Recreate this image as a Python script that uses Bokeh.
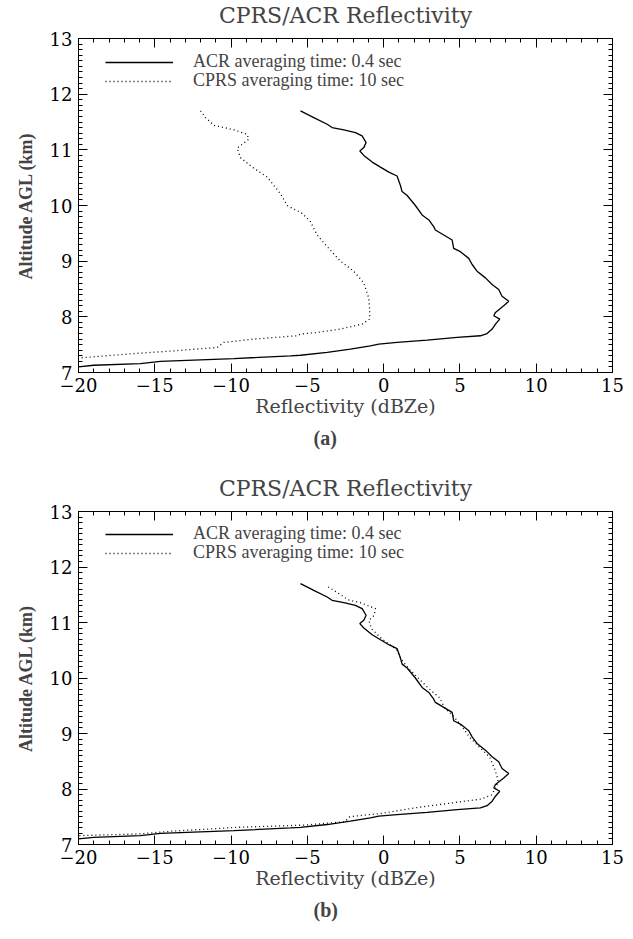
from bokeh.plotting import figure
from bokeh.models import (Range1d, LinearAxis, SingleIntervalTicker, Legend, LegendItem, Title,
                          CustomLabelingPolicy)
from bokeh.layouts import column
from bokeh.embed import file_html
from bokeh.resources import INLINE

# ---------------- data ----------------
acr_dbz = [-5.45, -4.58, -3.70, -3.38, -2.61, -1.85, -1.41, -1.15, -1.30, -1.56, -1.30, -0.75,
           -0.21, 0.34, 0.88, 1.10, 1.21, 1.54, 2.08, 2.52, 2.96, 3.28, 3.39, 3.94, 4.49, 4.59,
           5.03, 5.58, 5.80, 6.12, 6.67, 7.11, 7.54, 7.76, 8.20, 7.87, 7.33, 7.22, 7.61, 7.33,
           7.11, 6.78, 6.34, 4.82, 2.85, 0.88, -0.32, -0.87, -2.18, -3.70, -5.45, -6.10, -9.82,
           -14.63, -15.94, -19.0, -20.0]
acr_alt = [11.70, 11.58, 11.46, 11.40, 11.36, 11.31, 11.25, 11.13, 11.04, 10.98, 10.90, 10.78,
           10.69, 10.60, 10.53, 10.36, 10.25, 10.18, 10.00, 9.83, 9.74, 9.62, 9.56, 9.47, 9.38, 9.23,
           9.17, 9.05, 8.94, 8.82, 8.70, 8.58, 8.49, 8.37, 8.28, 8.20, 8.08, 8.02, 7.96, 7.87,
           7.78, 7.70, 7.66, 7.63, 7.58, 7.54, 7.51, 7.48, 7.42, 7.36, 7.31, 7.30, 7.25,
           7.20, 7.16, 7.13, 7.10]

cprs_a_dbz = [-12.0, -11.68, -11.13, -9.82, -8.95, -8.84, -9.60, -9.38, -8.62, -7.63, -6.76, -6.32,
              -5.56, -5.34, -4.80, -4.36, -3.70, -2.83, -1.96, -1.30, -0.98, -0.91, -0.91, -1.41,
              -2.83, -4.36, -5.45, -5.67, -8.51, -10.48, -10.91, -14.19, -16.38, -20.0]
cprs_a_alt = [11.70, 11.58, 11.44, 11.36, 11.28, 11.19, 11.03, 10.86, 10.69, 10.51, 10.21, 10.00,
              9.89, 9.86, 9.71, 9.47, 9.26, 9.00, 8.82, 8.61, 8.34, 8.11, 7.96, 7.87,
              7.78, 7.72, 7.69, 7.66, 7.60, 7.54, 7.45, 7.38, 7.34, 7.26]

cprs_b_dbz = [-3.64, -3.09, -2.33, -1.45, -0.91, -0.54, -0.62, -0.97, -0.80, -0.14, 0.84, 1.17,
              1.71, 2.26, 2.92, 3.68, 4.00, 4.55, 5.10, 5.64, 6.30, 6.95, 7.28, 7.50, 7.39, 7.06,
              6.41, 4.23, 2.04, -0.14, -1.24, -2.22, -2.55, -5.17, -9.53, -13.9, -16.09, -20.0]
cprs_b_alt = [11.64, 11.55, 11.41, 11.35, 11.29, 11.25, 11.13, 11.04, 10.89, 10.71, 10.51, 10.33,
              10.15, 10.00, 9.82, 9.64, 9.46, 9.32, 9.14, 8.93, 8.75, 8.57, 8.36, 8.16, 8.04, 7.89,
              7.82, 7.74, 7.66, 7.56, 7.53, 7.50, 7.41, 7.35, 7.31, 7.24, 7.19, 7.16]

x_ticks = [-20, -15, -10, -5, 0, 5, 10, 15]
x_tick_labels = ["\u221220", "\u221215", "\u221210", "\u22125", "0", "5", "10", "15"]
y_ticks = [7, 8, 9, 10, 11, 12, 13]
y_tick_labels = ["7", "8", "9", "10", "11", "12", "13"]

title_text = "CPRS/ACR Reflectivity"
x_label = "Reflectivity (dBZe)"
y_label = "Altitude AGL (km)"
acr_label = "ACR averaging time: 0.4 sec"
cprs_label = "CPRS averaging time: 10 sec"
panel_tags = ["(a)", "(b)"]

IDL_FONT = "DejaVu Serif"
TIMES = "Liberation Serif"
FRAME_H = 337

HIDE_ALL = ("try { for (let i = 0; i < indices.size; i++) { indices.unset(i) } } catch (e) {}\n"
            "return indices")


def style_axis(ax, labels):
    ax.axis_line_color = "black"
    ax.axis_line_width = 1
    ax.major_tick_in = 9
    ax.major_tick_out = 0
    ax.minor_tick_in = 4
    ax.minor_tick_out = 0
    ax.major_tick_line_color = "black"
    ax.minor_tick_line_color = "black"
    if labels:
        ax.major_label_text_font = IDL_FONT
        ax.major_label_text_font_size = "18px"
        ax.major_label_text_color = "black"
    else:
        ax.major_label_policy = CustomLabelingPolicy(code=HIDE_ALL)
        ax.major_label_standoff = 0


def make_panel(cprs_dbz, cprs_alt, tag, top, bottom):
    p = figure(width=632, height=top + FRAME_H + bottom,
               x_range=Range1d(-20, 15), y_range=Range1d(7, 13),
               x_axis_type=None, y_axis_type=None,
               output_backend="svg", toolbar_location=None,
               min_border_left=78, min_border_right=20,
               min_border_top=top, min_border_bottom=bottom,
               background_fill_color="white", border_fill_color="white")
    p.grid.visible = False
    p.outline_line_color = "black"

    xt = SingleIntervalTicker(interval=5, num_minor_ticks=5)
    yt = SingleIntervalTicker(interval=1, num_minor_ticks=10)

    xb = LinearAxis(ticker=xt, axis_label=x_label,
                    major_label_overrides={t: l for t, l in zip(x_ticks, x_tick_labels)})
    style_axis(xb, True)
    xb.major_label_standoff = 5
    xb.axis_label_text_font = IDL_FONT
    xb.axis_label_text_font_size = "19px"
    xb.axis_label_text_font_style = "normal"
    xb.axis_label_standoff = 0
    p.add_layout(xb, "below")

    xa = LinearAxis(ticker=xt)
    style_axis(xa, False)
    p.add_layout(xa, "above")

    yl = LinearAxis(ticker=yt, axis_label=y_label,
                    major_label_overrides={t: l for t, l in zip(y_ticks, y_tick_labels)})
    style_axis(yl, True)
    yl.major_label_standoff = 6
    yl.axis_label_text_font = TIMES
    yl.axis_label_text_font_size = "18px"
    yl.axis_label_text_font_style = "bold"
    yl.axis_label_standoff = 11
    p.add_layout(yl, "left")

    yr = LinearAxis(ticker=yt)
    style_axis(yr, False)
    p.add_layout(yr, "right")

    r_acr = p.line(acr_dbz, acr_alt, line_color="black", line_width=1.3)
    r_cprs = p.line(cprs_dbz, cprs_alt, line_color="black", line_width=1.3, line_dash="1 3")

    for i, (lab, rend) in enumerate([(acr_label, r_acr), (cprs_label, r_cprs)]):
        lg = Legend(items=[LegendItem(label=lab, renderers=[rend])],
                    location=(27, 300 - 19 * i),
                    padding=0, margin=0, spacing=0,
                    border_line_color=None, background_fill_alpha=0,
                    label_text_font=TIMES, label_text_font_size="18px",
                    glyph_width=68, glyph_height=18, label_height=18,
                    label_standoff=20)
        p.add_layout(lg)

    p.add_layout(Title(text=title_text, align="center", text_font=IDL_FONT,
                       text_font_size="22px", text_font_style="normal",
                       standoff=0), "above")
    p.add_layout(Title(text=tag, align="left", offset=235, text_font=TIMES,
                       text_font_size="20px", text_font_style="bold",
                       standoff=11), "below")
    return p


p1 = make_panel(cprs_a_dbz, cprs_a_alt, panel_tags[0], 35, 101)
p2 = make_panel(cprs_b_dbz, cprs_b_alt, panel_tags[1], 34, 95)
layout = column(p1, p2)

open("out.html", "w").write(file_html(layout, INLINE))
